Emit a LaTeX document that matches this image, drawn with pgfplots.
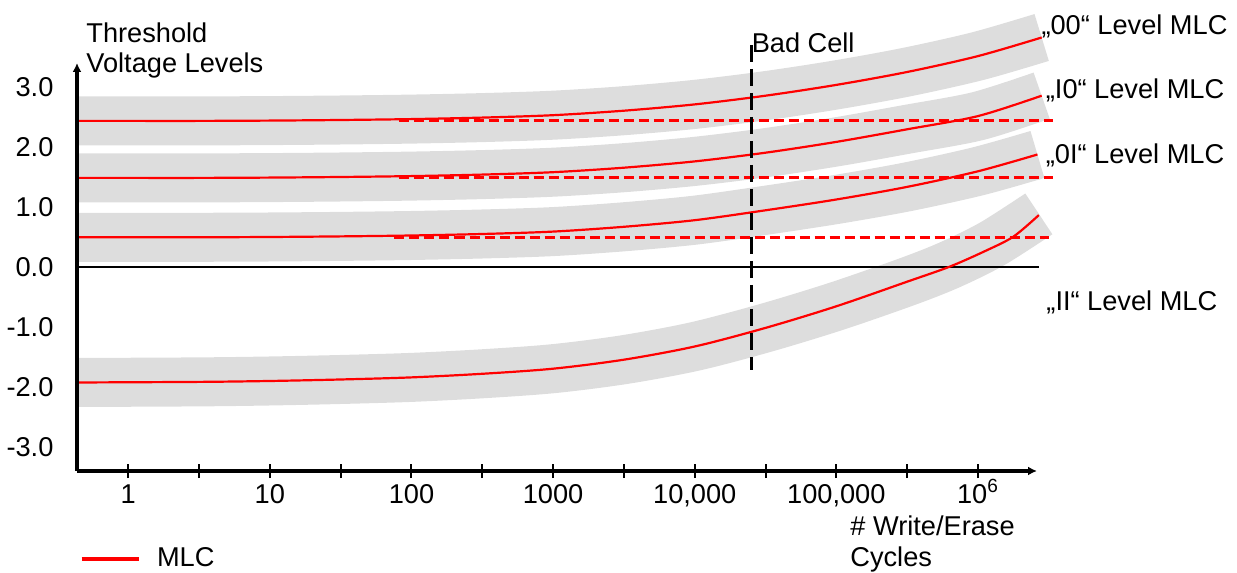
\documentclass[border=0pt]{standalone}
\usepackage{pgfplots}
\pgfplotsset{compat=1.18}
\usepackage{pgfplotstable}
\usetikzlibrary{arrows.meta}
\usepackage{fontspec}
\setmainfont{Liberation Sans}
\newcommand{\lbl}{\fontsize{13.6}{15.3}\selectfont}
\definecolor{band}{RGB}{221,221,221}

% x = log10(# write/erase cycles), y = threshold voltage
\pgfplotstableread{
L V
-0.362 2.43
0.0 2.43
0.5 2.43
1.0 2.435
1.5 2.445
2.0 2.46
2.5 2.485
3.0 2.525
3.5 2.60
4.0 2.705
4.5 2.85
5.0 3.03
5.5 3.245
6.0 3.51
6.45 3.82
}\tzz
\pgfplotstableread{
L V
-0.362 1.48
0.0 1.48
0.5 1.48
1.0 1.485
1.5 1.495
2.0 1.51
2.5 1.535
3.0 1.575
3.5 1.65
4.0 1.755
4.5 1.90
5.0 2.08
5.5 2.29
6.0 2.51
6.45 2.85
}\toz
\pgfplotstableread{
L V
-0.362 0.49
0.0 0.49
0.5 0.49
1.0 0.495
1.5 0.505
2.0 0.52
2.5 0.545
3.0 0.585
3.5 0.665
4.0 0.775
4.5 0.94
5.0 1.12
5.5 1.33
6.0 1.59
6.42 1.87
}\tzo
\pgfplotstableread{
L V
-0.362 -1.93
0.5 -1.92
1.0 -1.905
1.5 -1.88
2.0 -1.845
2.5 -1.785
3.0 -1.70
3.5 -1.55
4.0 -1.33
4.5 -1.02
5.0 -0.66
5.5 -0.25
5.8 0.0
6.05 0.26
6.25 0.50
6.43 0.86
}\too
% centre line of the "11" spread band
\pgfplotstableread{
L V
-0.362 -1.93
0.5 -1.92
1.0 -1.905
1.5 -1.88
2.0 -1.845
2.5 -1.785
3.0 -1.70
3.5 -1.55
4.0 -1.33
4.5 -1.02
5.0 -0.66
5.5 -0.25
5.8 0.03
6.1 0.38
6.43 0.88
}\tooband

\begin{document}
\begin{tikzpicture}
\begin{axis}[name=ax, scale only axis, width=480pt, height=204pt,
  xmin=-0.362, xmax=6.417, ymin=-3.405, ymax=3.395,
  axis lines=left, axis on top, clip=false,
  axis line style={line width=1.7pt, -{Latex[length=4.5pt,width=4.5pt]}},
  xtick={0,0.5,...,6},
  xticklabels={1,,10,,100,,1000,,{10,000},,{100,000},,10\textsuperscript{6}},
  ytick={-3,...,3},
  yticklabels={-3.0,-2.0,-1.0,0.0,1.0,2.0,3.0},
  tick align=center, major tick length=7.2pt,
  xtick style={black, line width=1pt}, ytick style={draw=none},
  tick label style={font=\lbl},
  xticklabel style={anchor=base, inner sep=0pt, yshift=-12.5pt},
  yticklabel style={anchor=east, inner sep=0pt, xshift=-8pt},
  xlabel={\# Write/Erase\\Cycles},
  ylabel={Threshold\\Voltage Levels},
  every axis x label/.style={at={(axis description cs:0.8052,-0.110)}, anchor=north west, align=left, inner sep=0pt, font=\lbl},
  every axis y label/.style={at={(axis description cs:0.0094,1.1005)}, anchor=north west, align=left, inner sep=0pt, font=\lbl},
  legend style={draw=none, fill=none, at={(axis description cs:0.0021,-0.2157)}, anchor=west,
    inner sep=0pt, font=\lbl, nodes={inner sep=0pt}, column sep=8pt},
  legend cell align=left,
  legend image code/.code={\draw[red,line width=2.3pt] (0pt,0pt) -- (28.5pt,0pt);},
]
% gray distribution bands
\addplot[band, line width=24.5pt, line cap=butt, smooth, forget plot] table[x=L,y=V] {\tzz};
\addplot[band, line width=24.5pt, line cap=butt, smooth, forget plot] table[x=L,y=V] {\toz};
\addplot[band, line width=24.5pt, line cap=butt, smooth, forget plot] table[x=L,y=V] {\tzo};
\addplot[band, line width=24.5pt, line cap=butt, smooth, forget plot] table[x=L,y=V] {\tooband};
% zero line
\addplot[black, line width=1pt, forget plot] coordinates {(-0.362,0) (6.43,0)};
% read reference levels (dashed)
\addplot[red, line width=1.5pt, dash pattern=on 5pt off 2.5pt, forget plot] coordinates {(1.91,2.435) (6.53,2.435)};
\addplot[red, line width=1.5pt, dash pattern=on 5pt off 2.5pt, forget plot] coordinates {(1.91,1.48) (6.53,1.48)};
\addplot[red, line width=1.5pt, dash pattern=on 5pt off 2.5pt, forget plot] coordinates {(1.88,0.49) (6.50,0.49)};
% MLC level curves
\addplot[red, line width=1.1pt, smooth] table[x=L,y=V] {\tzz};
\addlegendentry{MLC}
\addplot[red, line width=1.1pt, smooth, forget plot] table[x=L,y=V] {\toz};
\addplot[red, line width=1.1pt, smooth, forget plot] table[x=L,y=V] {\tzo};
\addplot[red, line width=1.1pt, smooth, forget plot] table[x=L,y=V] {\too};
% bad cell marker
\addplot[black, line width=1.4pt, dash pattern=on 8.5pt off 3.5pt, forget plot] coordinates {(4.40,3.695) (4.40,-1.73)};
% labels
\node[anchor=base west, inner sep=0pt, font=\lbl] at (axis cs:4.40,3.567) {Bad Cell};
\node[anchor=base west, inner sep=0pt, font=\lbl] at (axis cs:6.446,3.878) {„00“ Level MLC};
\node[anchor=base west, inner sep=0pt, font=\lbl] at (axis cs:6.477,2.807) {„I0“ Level MLC};
\node[anchor=base west, inner sep=0pt, font=\lbl] at (axis cs:6.477,1.712) {„0I“ Level MLC};
\node[anchor=base west, inner sep=0pt, font=\lbl] at (axis cs:6.481,-0.738) {„II“ Level MLC};
\end{axis}
\pgfresetboundingbox
\path ([shift={(-38.5pt,-51pt)}]ax.south west) rectangle ([shift={(100pt,31.5pt)}]ax.north east);
\end{tikzpicture}
\end{document}
